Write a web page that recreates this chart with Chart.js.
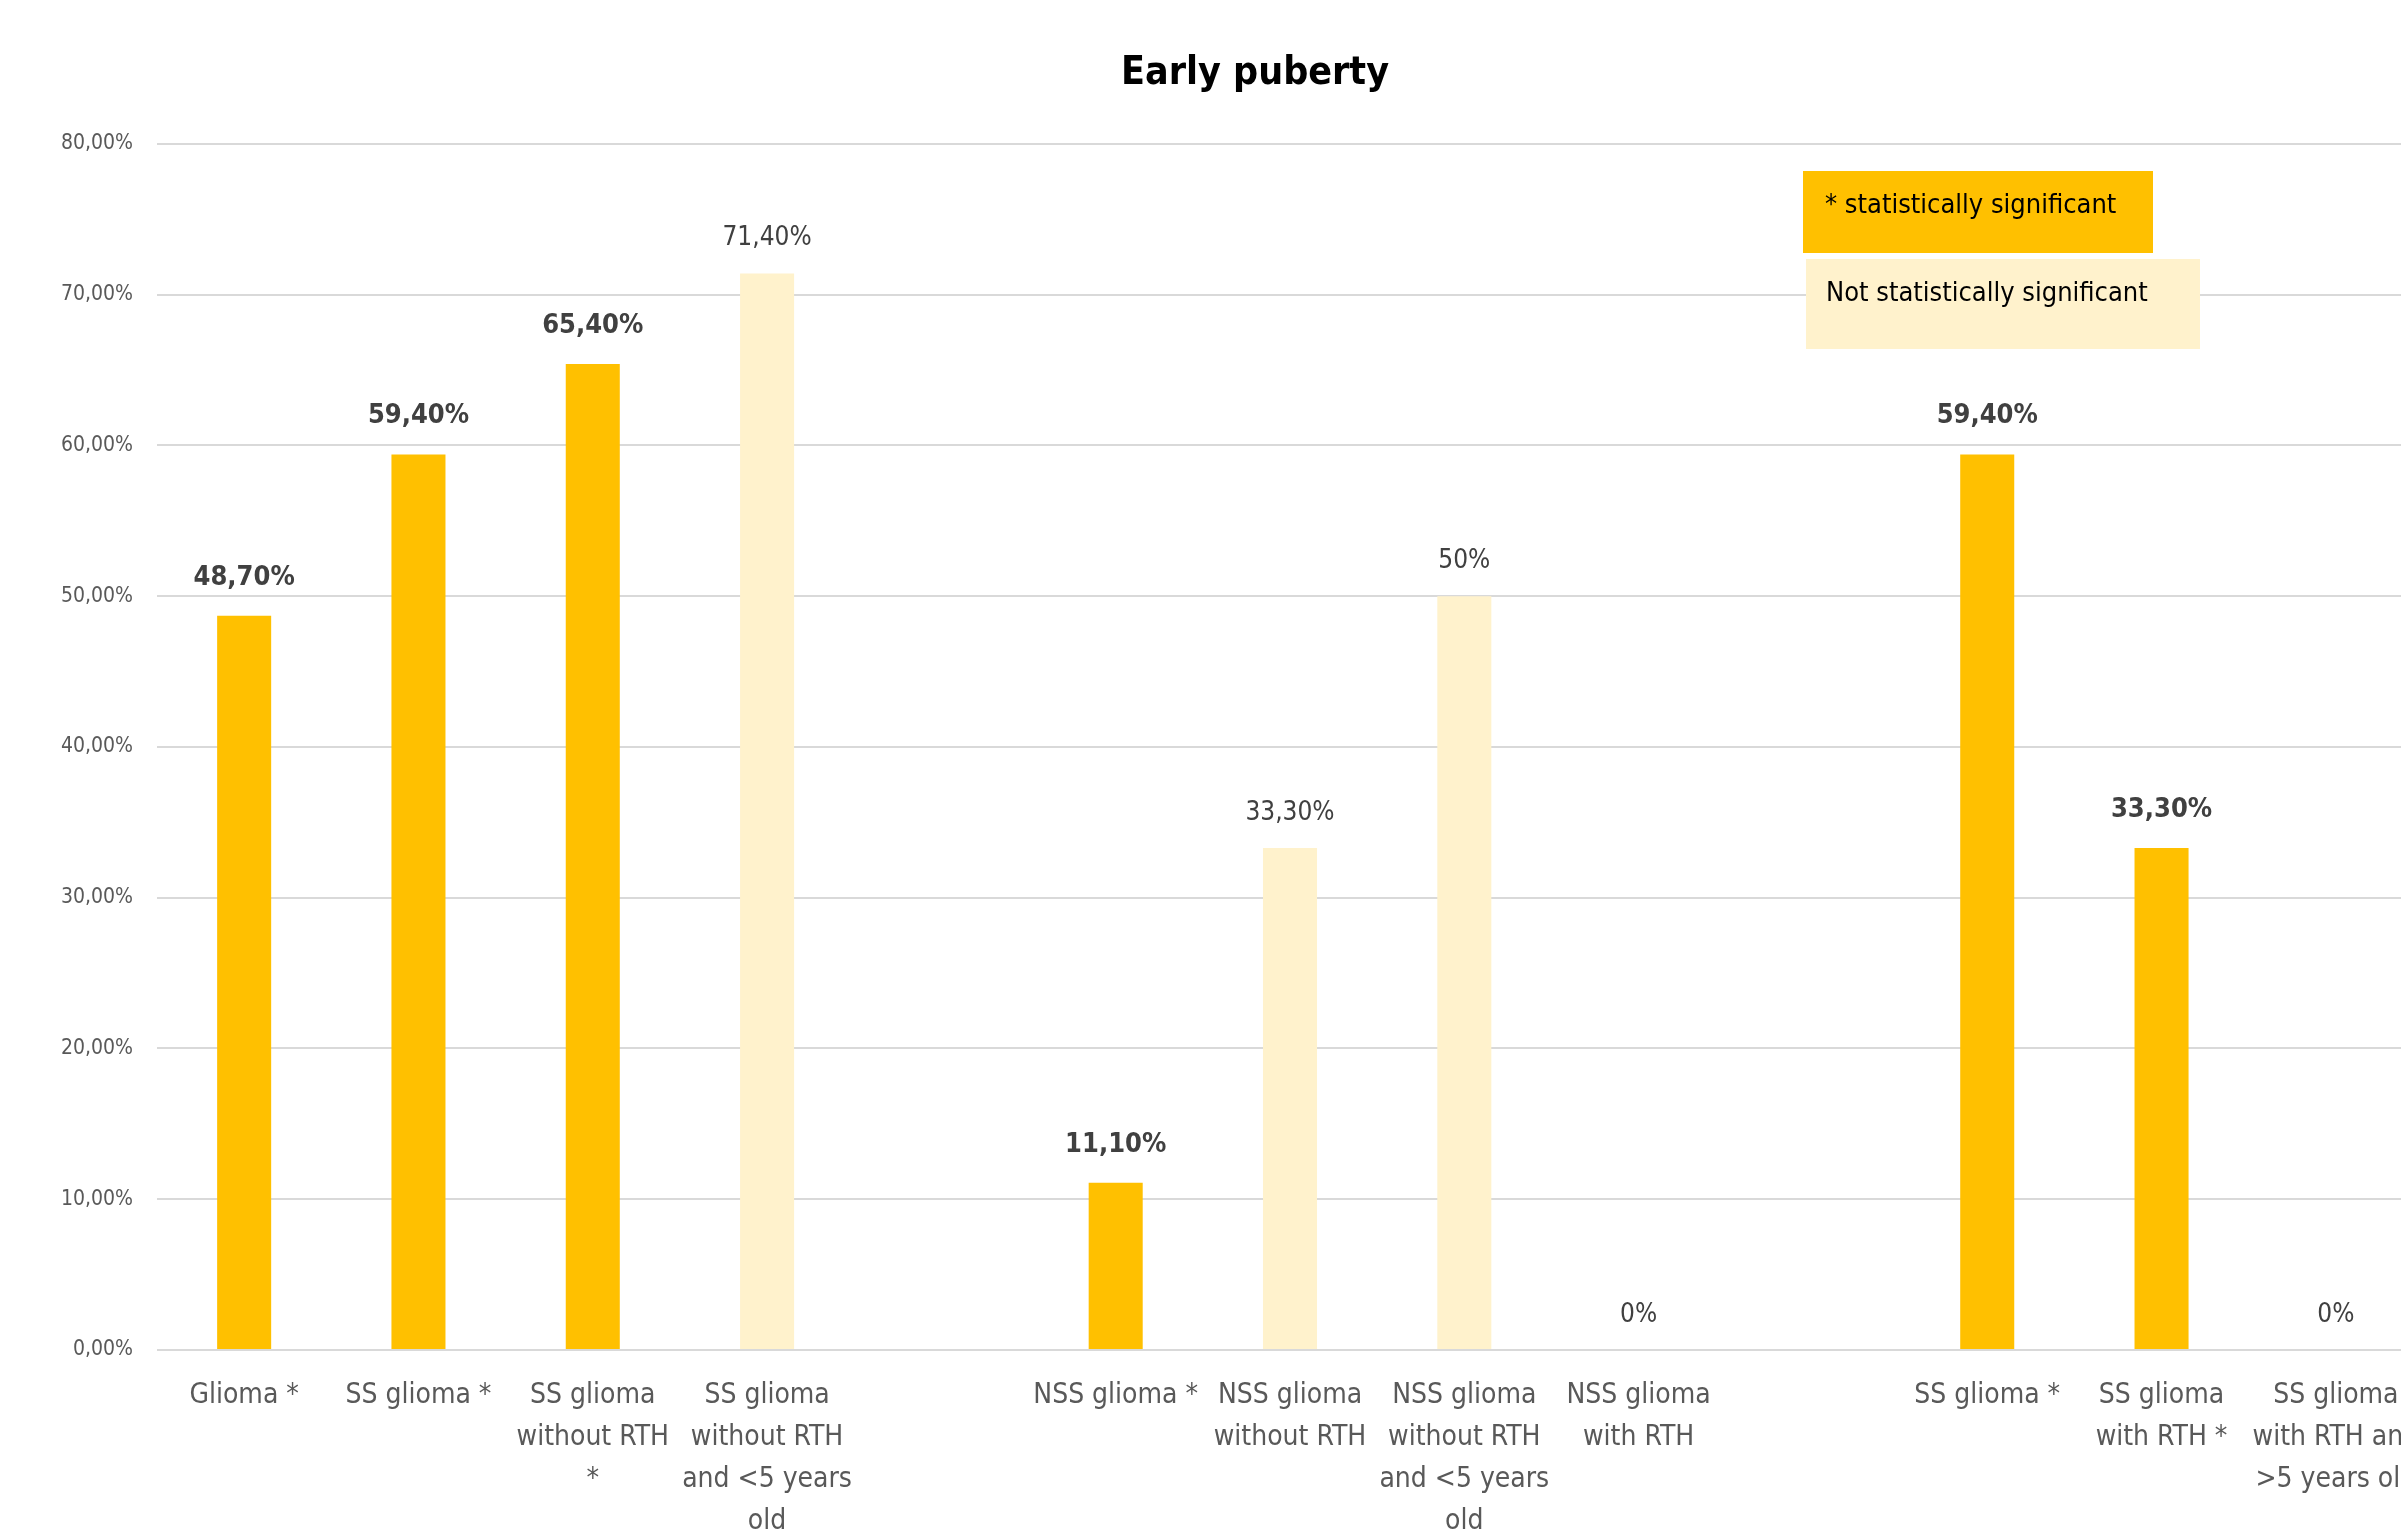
<!DOCTYPE html>
<html>
<head>
<meta charset="utf-8">
<script src="https://cdn.jsdelivr.net/npm/chart.js@4.4.1/dist/chart.umd.min.js"></script>
<style>
  html, body { margin: 0; padding: 0; background: #fff; overflow: hidden; }
  #wrap { width: 2401px; height: 1532px; overflow: hidden; position: relative; }
  #box { width: 2510px; height: 1532px; position: absolute; left: 0; top: 0; }
</style>
</head>
<body>
<div id="wrap"><div id="box"><canvas id="chart"></canvas></div></div>
<script>
const categories = [
  "Glioma *",
  "SS glioma *",
  ["SS glioma", "without RTH", "*"],
  ["SS glioma", "without RTH", "and <5 years", "old"],
  "",
  "NSS glioma *",
  ["NSS glioma", "without RTH"],
  ["NSS glioma", "without RTH", "and <5 years", "old"],
  ["NSS glioma", "with RTH"],
  "",
  "SS glioma *",
  ["SS glioma", "with RTH *"],
  ["SS glioma", "with RTH and", ">5 years old"]
];
const values = [48.7, 59.4, 65.4, 71.4, null, 11.1, 33.3, 50, 0, null, 59.4, 33.3, 0];
// 1 = statistically significant, 0 = not
const significant = [1, 1, 1, 0, 0, 1, 0, 0, 0, 0, 1, 1, 0];
const yTicks = [0, 10, 20, 30, 40, 50, 60, 70, 80];

const SIG = "#FFC000";
const NOT_SIG = "#FFF2CC";
const FONT = "'Liberation Sans Narrow', 'DejaVu Sans Condensed', Lato, sans-serif";

function pct(v) {
  return Number.isInteger(v) ? v + "%" : v.toFixed(2).replace(".", ",") + "%";
}

const valueLabels = {
  id: "valueLabels",
  afterDatasetsDraw(chart) {
    const ctx = chart.ctx;
    const meta = chart.getDatasetMeta(0);
    ctx.save();
    ctx.textAlign = "center";
    ctx.textBaseline = "middle";
    ctx.fillStyle = "#404040";
    meta.data.forEach((bar, i) => {
      const v = values[i];
      if (v === null) return;
      if (significant[i]) {
        ctx.font = "bold 27px " + FONT;
        ctx.fillText(pct(v), bar.x, bar.y - 38);
      } else {
        ctx.font = "26px " + FONT;
        ctx.fillText(pct(v), bar.x, bar.y - 35);
      }
    });
    ctx.restore();
  }
};

const keyBoxes = {
  id: "keyBoxes",
  afterDraw(chart) {
    const ctx = chart.ctx;
    ctx.save();
    ctx.fillStyle = SIG;
    ctx.fillRect(1803, 171, 350, 82);
    ctx.fillStyle = NOT_SIG;
    ctx.fillRect(1806, 259, 394, 90);
    ctx.fillStyle = "#000";
    ctx.font = "27px " + FONT;
    ctx.textAlign = "left";
    ctx.textBaseline = "middle";
    ctx.fillText("* statistically significant", 1825, 206);
    ctx.fillText("Not statistically significant", 1826, 294);
    ctx.restore();
  }
};

new Chart(document.getElementById("chart"), {
  type: "bar",
  data: {
    labels: categories,
    datasets: [{
      data: values,
      backgroundColor: significant.map(s => (s ? SIG : NOT_SIG)),
      barPercentage: 0.31,
      categoryPercentage: 1
    }]
  },
  options: {
    responsive: true,
    maintainAspectRatio: false,
    animation: false,
    layout: { padding: 0 },
    plugins: {
      legend: { display: false },
      tooltip: { enabled: false },
      title: {
        display: true,
        text: "Early puberty",
        color: "#000",
        font: { family: FONT, size: 39, weight: "bold", lineHeight: 1.2 },
        padding: { top: 50, bottom: 47 }
      }
    },
    scales: {
      x: {
        grid: { display: false },
        border: { display: false },
        ticks: {
          color: "#595959",
          font: { family: FONT, size: 28, lineHeight: 1.5 },
          padding: 17,
          maxRotation: 0,
          autoSkip: false
        },
        afterFit(s) { s.height = 182; }
      },
      y: {
        min: 0,
        max: 80,
        afterBuildTicks(s) { s.ticks = yTicks.map(v => ({ value: v })); },
        grid: { color: "#D9D9D9", lineWidth: 2, drawTicks: false },
        border: { display: false },
        ticks: {
          color: "#595959",
          font: { family: FONT, size: 21 },
          padding: 24,
          callback: v => v.toFixed(2).replace(".", ",") + "%"
        },
        afterFit(s) { s.width = 157; }
      },
      // empty right-hand margin so the title stays centred on the full width
      yRight: {
        position: "right",
        min: 0,
        max: 80,
        grid: { display: false },
        border: { display: false },
        ticks: { display: false },
        afterFit(s) { s.width = 87; }
      }
    }
  },
  plugins: [valueLabels, keyBoxes]
});
</script>
</body>
</html>
